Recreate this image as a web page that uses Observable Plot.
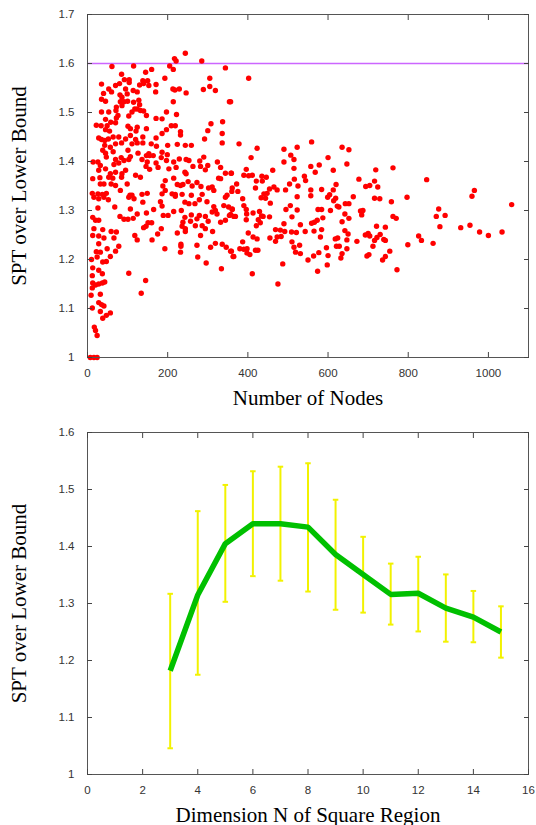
<!DOCTYPE html>
<html><head><meta charset="utf-8">
<script src="https://cdn.jsdelivr.net/npm/d3@7"></script>
<script src="https://cdn.jsdelivr.net/npm/@observablehq/plot@0.6"></script>
<style>
body{margin:0;background:#fff;}
#chart svg{display:block;}
g[aria-label="x-axis label"], g[aria-label="y-axis label"]{font-family:"Liberation Serif","Times New Roman",serif;font-size:21px;fill:#000;}
</style></head><body><div id="chart"></div><script>
// ---- Top panel: SPT over lower bound vs number of nodes ----
const nodes = [
402,357,378,423,408,490,523,559,635,652,490,507,515,515,600,557,578,568,647,613,462,396,358,390,402,411,435,446,421,436,372,360,375,419,454,465,473,494,504,516,525,541,544,557,557,584,613,620,677,694,704,716,724,719,762,440,448,433,444,387,456,390,396,361,397,413,369,357,429,434,438,426,431,396,454,421,401,413,423,387,380,390,398,359,365,398,405,419,425,411,475,487,469,481,492,509,521,543,473,483,455,469,490,531,495,506,510,523,523,510,515,519,529,531,550,564,577,574,559,566,573,575,584,587,584,565,581,596,600,598,606,599,604,614,619,623,627,635,642,643,652,652,663,642,650,647,647,635,632,618,624,621,628,672,681,687,684,693,700,704,716,722,730,739,743,721,743,712,697,702,736,743,754,758,762,770,772,716,729,
797,799,846,826,833,862,876,870,892,879,931,954,959,965,978,1000,1034,1058,
244,217,221,285,61,115,205,214,344,160,145,85,305,193,104,104,92,138,150,35,70,80,130,140,153,171,305,213,218,229,289,319,53,60,95,99,114,124,170,246,40,81,86,35,45,91,82,100,115,128,214,354,130,86,72,118,71,124,132,35,53,111,140,197,222,76,72,103,147,171,186,45,337,58,70,22,34,49,209,219,197,101,124,147,308,300,45,55,107,121,186,232,232,28,35,43,52,64,78,95,107,120,138,171,292,336,43,57,70,85,111,124,138,159,172,200,224,244,259,336,38,45,64,101,126,153,186,199,47,70,84,107,147,155,164,14,26,32,66,78,91,103,136,149,171,184,197,215,229,246,253,280,290,324,282,300,294,146,155,176,203,221,263,332,28,45,57,70,86,95,120,243,246,344,359,13,31,53,63,85,132,194,215,327,332,32,41,59,70,99,188,194,224,232,238,251,261,273,283,302,311,361,12,26,37,47,82,106,111,136,149,186,211,219,236,259,286,315,348,
16,28,41,52,103,116,138,182,219,243,253,268,279,298,344,26,68,107,186,234,315,319,340,352,361,13,20,28,81,91,101,114,124,147,165,189,201,215,243,259,273,279,294,301,311,323,332,344,354,365,238,257,151,160,236,269,286,294,16,38,59,72,140,146,184,244,13,28,41,66,118,124,161,175,224,244,282,312,28,233,233,273,307,319,336,346,49,78,193,22,32,70,232,357,57,363,10,24,38,47,275,296,13,28,334,12,37,103,145,13,20,28,37,43,12,32,9,134,28,12,35,41,32,57,47,38,17,20,24,7,16,24
];
const ratios = [
1.570,1.522,1.436,1.427,1.408,1.425,1.429,1.440,1.429,1.424,1.399,1.413,1.404,1.386,1.408,1.390,1.393,1.378,1.395,1.382,1.382,1.384,1.376,1.372,1.371,1.372,1.370,1.368,1.360,1.360,1.354,1.339,1.339,1.346,1.344,1.348,1.342,1.342,1.354,1.364,1.350,1.370,1.361,1.342,1.330,1.343,1.342,1.353,1.364,1.349,1.351,1.360,1.348,1.383,1.387,1.334,1.335,1.326,1.325,1.324,1.315,1.310,1.302,1.303,1.293,1.295,1.288,1.292,1.298,1.289,1.288,1.281,1.275,1.281,1.287,1.269,1.254,1.246,1.242,1.236,1.222,1.221,1.222,1.217,1.206,1.213,1.210,1.219,1.219,1.171,1.150,1.191,1.261,1.260,1.257,1.256,1.255,1.257,1.246,1.247,1.244,1.237,1.273,1.271,1.302,1.310,1.287,1.301,1.328,1.236,1.225,1.215,1.229,1.212,1.199,1.207,1.214,1.176,1.274,1.276,1.280,1.302,1.302,1.285,1.261,1.258,1.246,1.224,1.208,1.189,1.300,1.327,1.332,1.320,1.325,1.309,1.307,1.277,1.293,1.314,1.314,1.284,1.328,1.259,1.252,1.240,1.222,1.212,1.203,1.242,1.244,1.227,1.227,1.237,1.299,1.300,1.291,1.250,1.253,1.248,1.239,1.245,1.251,1.241,1.239,1.268,1.266,1.227,1.207,1.210,1.199,1.206,1.217,1.318,1.288,1.284,1.179,1.325,1.324,
1.327,1.230,1.363,1.248,1.239,1.233,1.303,1.288,1.290,1.267,1.265,1.270,1.329,1.341,1.256,1.249,1.256,1.312,
1.621,1.610,1.605,1.605,1.594,1.595,1.595,1.588,1.591,1.588,1.582,1.578,1.570,1.570,1.567,1.561,1.567,1.565,1.565,1.558,1.555,1.559,1.556,1.559,1.555,1.557,1.553,1.548,1.546,1.548,1.547,1.545,1.548,1.542,1.548,1.538,1.545,1.542,1.542,1.540,1.539,1.536,1.531,1.527,1.523,1.522,1.522,1.523,1.521,1.525,1.522,1.522,1.516,1.514,1.511,1.507,1.504,1.507,1.504,1.501,1.501,1.501,1.503,1.501,1.496,1.494,1.489,1.493,1.494,1.488,1.487,1.486,1.481,1.480,1.479,1.474,1.473,1.473,1.473,1.473,1.465,1.472,1.470,1.467,1.477,1.463,1.465,1.462,1.467,1.462,1.457,1.461,1.454,1.448,1.445,1.443,1.446,1.450,1.450,1.446,1.453,1.445,1.450,1.448,1.446,1.457,1.433,1.429,1.436,1.438,1.436,1.438,1.438,1.436,1.431,1.433,1.435,1.433,1.433,1.438,1.423,1.417,1.420,1.423,1.417,1.416,1.419,1.414,1.409,1.404,1.408,1.410,1.412,1.412,1.412,1.399,1.399,1.392,1.394,1.397,1.402,1.404,1.404,1.399,1.397,1.408,1.402,1.399,1.405,1.404,1.402,1.401,1.409,1.399,1.390,1.392,1.383,1.390,1.384,1.388,1.385,1.388,1.390,1.388,1.382,1.385,1.375,1.378,1.375,1.382,1.372,1.378,1.375,1.376,1.376,1.365,1.367,1.368,1.366,1.368,1.368,1.361,1.366,1.366,1.365,1.354,1.354,1.354,1.351,1.354,1.350,1.341,1.353,1.351,1.353,1.359,1.350,1.357,1.349,1.346,1.348,1.346,1.335,1.334,1.333,1.335,1.341,1.331,1.331,1.333,1.335,1.334,1.334,1.333,1.333,1.331,1.333,1.341,1.331,
1.327,1.324,1.327,1.322,1.327,1.324,1.317,1.318,1.329,1.317,1.314,1.314,1.322,1.318,1.327,1.305,1.307,1.303,1.309,1.300,1.308,1.300,1.310,1.307,1.302,1.286,1.280,1.280,1.288,1.282,1.282,1.284,1.293,1.295,1.302,1.290,1.290,1.298,1.286,1.291,1.283,1.290,1.288,1.278,1.297,1.293,1.276,1.280,1.290,1.288,1.276,1.278,1.275,1.275,1.268,1.269,1.269,1.263,1.263,1.261,1.257,1.256,1.265,1.268,1.263,1.263,1.249,1.248,1.244,1.244,1.249,1.240,1.240,1.252,1.254,1.257,1.249,1.257,1.232,1.231,1.227,1.229,1.225,1.233,1.231,1.225,1.222,1.227,1.222,1.216,1.215,1.217,1.215,1.217,1.206,1.206,1.200,1.205,1.195,1.196,1.205,1.193,1.183,1.178,1.181,1.167,1.171,1.172,1.157,1.152,1.148,1.150,1.152,1.154,1.142,1.129,1.127,1.131,1.112,1.101,1.108,1.105,1.094,1.091,1.086,1.080,1.062,1.055,1.045,1.000,1.000,1.000
];
const boundLine = [1.6];
const xTicksTop = [0, 200, 400, 600, 800, 1000];
const yTicksTop = [1, 1.1, 1.2, 1.3, 1.4, 1.5, 1.6, 1.7];

// ---- Bottom panel: mean and spread vs dimension N ----
const dims   = [3, 4, 5, 6, 7, 8, 9, 10, 11, 12, 13, 14, 15];
const means  = [1.182, 1.315, 1.405, 1.440, 1.440, 1.434, 1.386, 1.351, 1.316, 1.318, 1.292, 1.276, 1.250];
const lows   = [1.046, 1.175, 1.303, 1.348, 1.340, 1.321, 1.289, 1.284, 1.263, 1.251, 1.233, 1.232, 1.205];
const highs  = [1.317, 1.462, 1.508, 1.532, 1.540, 1.546, 1.482, 1.417, 1.370, 1.382, 1.351, 1.322, 1.295];
const xTicksBot = [0, 2, 4, 6, 8, 10, 12, 14, 16];
const yTicksBot = [1, 1.1, 1.2, 1.3, 1.4, 1.5, 1.6];

const points = nodes.map((n, i) => ({n, r: ratios[i]}));
const dimTable = dims.map((n, i) => ({n, mean: means[i], lo: lows[i], hi: highs[i]}));
const fmt = d => String(+d.toFixed(2));
const baseStyle = {fontFamily: "'Liberation Sans', Arial, sans-serif", fontSize: "11.5px", color: "#333", background: "white"};

function frameAxes(xt, yt, xlabel, ylabel) {
  return [
    Plot.axisX(xt, {anchor: "bottom", tickSize: -5, tickPadding: 16, tickFormat: fmt, label: xlabel, labelAnchor: "center", labelOffset: 47, labelArrow: "none", stroke: "#444"}),
    Plot.axisX(xt, {anchor: "top", tickSize: -5, fill: "none", label: null, stroke: "#444"}),
    Plot.axisY(yt, {anchor: "left", tickSize: -5, tickPadding: 18, tickFormat: fmt, label: ylabel, labelAnchor: "center", labelOffset: 76, labelArrow: "none", stroke: "#444"}),
    Plot.axisY(yt, {anchor: "right", tickSize: -5, fill: "none", label: null, stroke: "#444"})
  ];
}

const topPlot = Plot.plot({
  width: 536, height: 410,
  marginLeft: 87, marginRight: 8, marginTop: 14, marginBottom: 53,
  style: baseStyle,
  x: {domain: [0, 1100]},
  y: {domain: [1, 1.7]},
  marks: [
    Plot.ruleY(boundLine, {stroke: "#cc66ff", strokeWidth: 1.5}),
    Plot.dot(points, {x: "n", y: "r", r: 2.7, fill: "#ff0000"}),
    Plot.frame({stroke: "#555"}),
    ...frameAxes(xTicksTop, yTicksTop, "Number of Nodes", "SPT over Lower Bound")
  ]
});

const botPlot = Plot.plot({
  width: 536, height: 415,
  marginLeft: 87, marginRight: 8, marginTop: 22, marginBottom: 51,
  style: baseStyle,
  x: {domain: [0, 16]},
  y: {domain: [1, 1.6]},
  marks: [
    Plot.ruleX(dimTable, {x: "n", y1: "lo", y2: "hi", stroke: "#f2f200", strokeWidth: 2}),
    Plot.link(dimTable, {x1: d => d.n - 0.1, x2: d => d.n + 0.1, y1: "lo", y2: "lo", stroke: "#f2f200", strokeWidth: 2}),
    Plot.link(dimTable, {x1: d => d.n - 0.1, x2: d => d.n + 0.1, y1: "hi", y2: "hi", stroke: "#f2f200", strokeWidth: 2}),
    Plot.line(dimTable, {x: "n", y: "mean", stroke: "#00c000", strokeWidth: 5.5, strokeLinejoin: "miter", strokeLinecap: "butt"}),
    Plot.frame({stroke: "#555"}),
    ...frameAxes(xTicksBot, yTicksBot, "Dimension N of Square Region", "SPT over Lower Bound")
  ]
});

document.getElementById("chart").append(topPlot, botPlot);
</script></body></html>
